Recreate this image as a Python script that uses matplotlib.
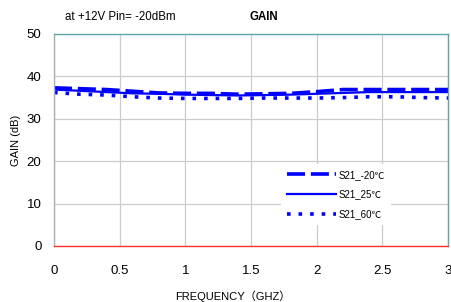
import matplotlib.pyplot as plt
import numpy as np

# 字体：Arial 同度量的 Liberation Sans，特殊符号交给 CJK/DejaVu
plt.rcParams['font.family'] = ['Liberation Sans', 'Noto Sans CJK SC', 'DejaVu Sans']

# ---- data ----
freq = [0.0, 0.2, 0.4, 0.6, 0.8, 1.0, 1.2, 1.4, 1.6, 1.8, 2.0, 2.2, 2.4, 2.6, 2.8, 3.0]
s21_m20 = [37.3, 37.1, 36.9, 36.5, 36.1, 36.0, 36.0, 35.8, 35.9, 36.0, 36.4, 36.9, 36.9, 36.9, 36.9, 36.9]
s21_25 = [36.9, 36.6, 36.3, 36.0, 35.9, 35.7, 35.6, 35.5, 35.6, 35.7, 35.9, 36.1, 36.3, 36.3, 36.3, 36.3]
s21_60 = [36.2, 35.8, 35.6, 35.2, 34.9, 34.8, 34.8, 34.8, 34.9, 34.9, 34.9, 35.0, 35.2, 35.2, 35.0, 34.9]
labels = ['S21_-20℃', 'S21_25℃', 'S21_60℃']

x_ticks = [0, 0.5, 1, 1.5, 2, 2.5, 3]
x_ticklabels = ['0', '0.5', '1', '1.5', '2', '2.5', '3']
y_ticks = [0, 10, 20, 30, 40, 50]

fig = plt.figure(figsize=(4.51, 3.02), dpi=100)
ax = fig.add_axes([54 / 451, 56 / 302, 394 / 451, 212 / 302])

ax.plot(freq, s21_m20, color='#0000ff', lw=2.6, linestyle=(0, (5, 1.6)), label=labels[0])
ax.plot(freq, s21_25, color='#0000ff', lw=1.6, linestyle='-', label=labels[1])
ax.plot(freq, s21_60, color='#0000ff', lw=2.6, linestyle=(0, (1, 2.2)), label=labels[2])

ax.set_xlim(0, 3)
ax.set_ylim(0, 50)
ax.set_xticks(x_ticks)
ax.set_xticklabels(x_ticklabels)
ax.set_yticks(y_ticks)
ax.tick_params(axis='both', length=0, labelsize=9.5)
ax.tick_params(axis='x', pad=14)
ax.tick_params(axis='y', pad=9)

ax.grid(True, color='#cccccc', lw=0.9)
ax.set_axisbelow(True)

ax.spines['top'].set_color('#5fa8a8')
ax.spines['right'].set_color('#5fa8a8')
ax.spines['left'].set_color('#a8b4b4')
ax.spines['bottom'].set_color('#ff3030')
for s in ax.spines.values():
    s.set_linewidth(1.0)

ax.set_ylabel('GAIN (dB)', fontsize=8)
ax.set_xlabel('FREQUENCY（GHZ）', fontsize=8)
ax.xaxis.label.set_va('center')
ax.xaxis.set_label_coords((233 - 54) / 394, -50 / 212)

fig.text(65 / 451, 1 - 17 / 302, 'at +12V Pin= -20dBm', fontsize=8.3, va='center')
fig.text(250 / 451, 1 - 17 / 302, 'GAIN', fontsize=8.3, fontweight='bold', va='center')

leg = ax.legend(loc='upper left', bbox_to_anchor=(0.565, 0.41), fontsize=7, frameon=True,
                handlelength=5, handletextpad=0.3, labelspacing=1.0, borderpad=0.6)
leg.get_frame().set_edgecolor('none')
leg.get_frame().set_facecolor('white')
leg.get_frame().set_alpha(1)

fig.savefig('out.png', dpi=100)
